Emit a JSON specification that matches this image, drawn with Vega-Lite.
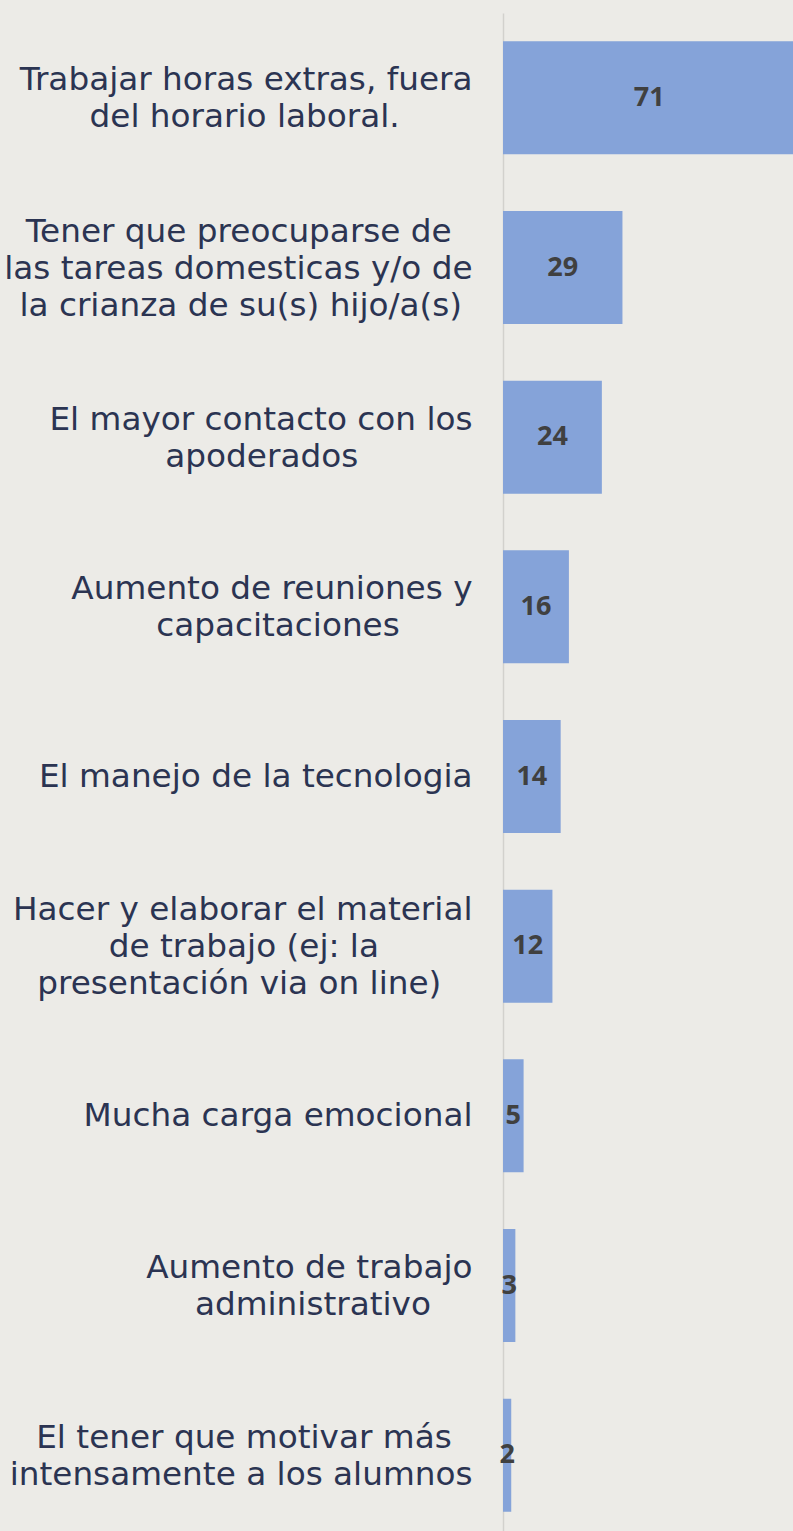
{
  "$schema": "https://vega.github.io/schema/vega-lite/v6.json",
  "autosize": {"type": "none"},
  "padding": {"left": 503, "top": 13, "right": 0, "bottom": 0},
  "width": 290,
  "height": 1527,
  "background": "#ECEBE7",
  "config": {"view": {"stroke": null}},
  "data": {
    "values": [
      {"label": "Trabajar horas extras, fuera\ndel horario laboral.\u00a0\u00a0\u00a0\u00a0\u00a0\u00a0\u00a0\u200b", "value": 71},
      {"label": "Tener que preocuparse de\u00a0\u00a0\u200b\nlas tareas domesticas y/o de\nla crianza de su(s) hijo/a(s)\u00a0\u200b", "value": 29},
      {"label": "El mayor contacto con los\napoderados\u00a0\u00a0\u00a0\u00a0\u00a0\u00a0\u00a0\u00a0\u00a0\u00a0\u00a0\u200b", "value": 24},
      {"label": "Aumento de reuniones y\ncapacitaciones\u00a0\u00a0\u00a0\u00a0\u00a0\u00a0\u00a0\u200b", "value": 16},
      {"label": "El manejo de la tecnologia", "value": 14},
      {"label": "Hacer y elaborar el material\nde trabajo (ej: la\u00a0\u00a0\u00a0\u00a0\u00a0\u00a0\u00a0\u00a0\u00a0\u200b\npresentación via on line)\u00a0\u00a0\u00a0\u200b", "value": 12},
      {"label": "Mucha carga emocional", "value": 5},
      {"label": "Aumento de trabajo\nadministrativo\u00a0\u00a0\u00a0\u00a0\u200b", "value": 3},
      {"label": "El tener que motivar más\u00a0\u00a0\u200b\nintensamente a los alumnos", "value": 2}
    ]
  },
  "encoding": {
    "y": {
      "field": "label",
      "type": "nominal",
      "sort": null,
      "scale": {"paddingInner": 0.334, "paddingOuter": 0.167},
      "axis": {
        "title": null,
        "ticks": false,
        "tickSize": 0,
        "grid": false,
        "domainColor": "#D2D1CD",
        "domainWidth": 1.5,
        "labelExpr": "split(datum.label, '\\n')",
        "labelFont": "DejaVu Sans",
        "labelFontSize": 32.7,
        "labelColor": "#2B3452",
        "labelLineHeight": 37,
        "labelBaseline": "middle",
        "labelAlign": "right",
        "labelPadding": 31,
        "labelLimit": 0,
        "labelOffset": {
          "condition": [
            {"test": "length(split(datum.value, '\\n')) == 3", "value": -36},
            {"test": "length(split(datum.value, '\\n')) == 2", "value": -17.5}
          ],
          "value": 0
        }
      }
    }
  },
  "layer": [
    {
      "mark": {"type": "bar", "color": "#85A3D9", "clip": true},
      "encoding": {
        "x": {
          "field": "value",
          "type": "quantitative",
          "scale": {"domain": [0, 70.4], "nice": false},
          "axis": null
        }
      }
    },
    {
      "mark": {"type": "text", "font": "Open Sans", "fontWeight": "bold", "fontSize": 27, "color": "#404040", "align": "center", "baseline": "middle"},
      "encoding": {
        "x": {"field": "value", "type": "quantitative", "stack": "zero", "bandPosition": 0.5},
        "text": {"field": "value", "type": "quantitative"}
      }
    }
  ]
}
